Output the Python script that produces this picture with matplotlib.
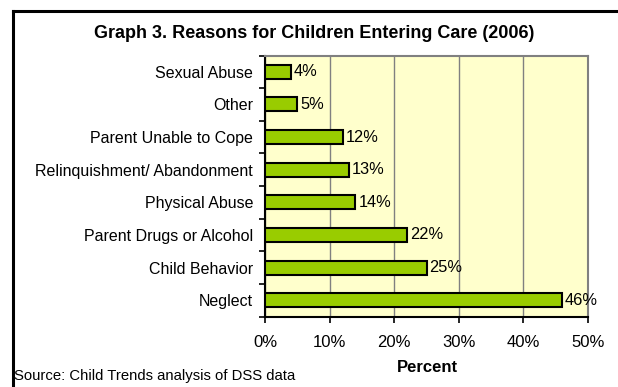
import matplotlib
matplotlib.use("Agg")
import matplotlib.pyplot as plt
from matplotlib.lines import Line2D
import numpy as np

plt.rcParams['font.family'] = ['Liberation Sans', 'DejaVu Sans']

categories = ["Neglect", "Child Behavior", "Parent Drugs or Alcohol", "Physical Abuse",
              "Relinquishment/ Abandonment", "Parent Unable to Cope", "Other", "Sexual Abuse"]
values = [46, 25, 22, 14, 13, 12, 5, 4]
xticks = [0, 10, 20, 30, 40, 50]
xticklabels = ["0%", "10%", "20%", "30%", "40%", "50%"]
title = "Graph 3. Reasons for Children Entering Care (2006)"
xlabel = "Percent"
source = "Source: Child Trends analysis of DSS data"

W, H = 618, 387
fig = plt.figure(figsize=(W / 100, H / 100), dpi=100)

# outer frame lines (top and left)
fig.add_artist(Line2D([12.5 / W, 1.0], [1 - 11 / H, 1 - 11 / H], color='black', lw=2.2,
                      transform=fig.transFigure))
fig.add_artist(Line2D([12.5 / W, 12.5 / W], [0, 1 - 11 / H], color='black', lw=2.2,
                      transform=fig.transFigure))

left, right, top, bottom = 265, 588, 55.5, 316.5
ax = fig.add_axes([left / W, 1 - bottom / H, (right - left) / W, (bottom - top) / H])
ax.set_facecolor('#FFFFCC')

y = np.arange(len(categories))
ax.barh(y, values, height=0.43, color='#99CC00', edgecolor='black', linewidth=1.5, zorder=3)
for yi, v in zip(y, values):
    ax.text(v + 0.45, yi, f"{v}%", va='center', ha='left', fontsize=11.8, zorder=4)

ax.set_xlim(0, 50)
ax.set_ylim(-0.5, len(categories) - 0.5)
ax.set_xticks(xticks)
ax.set_xticklabels(xticklabels, fontsize=12)
ax.set_yticks(y)
ax.set_yticklabels(categories, fontsize=11.5)
ax.set_yticks(np.arange(-0.5, len(categories), 1), minor=True)
ax.tick_params(axis='y', which='major', length=0, pad=8.5)
ax.tick_params(axis='y', which='minor', length=4, width=1.2, direction='out')
ax.tick_params(axis='x', which='major', length=4, width=1.2, direction='out', pad=9)

ax.grid(axis='x', color='#808080', lw=1, zorder=1)
for s in ['top', 'right']:
    ax.spines[s].set_color('#808080')
    ax.spines[s].set_linewidth(1.5)
for s in ['left', 'bottom']:
    ax.spines[s].set_color('black')
    ax.spines[s].set_linewidth(1.5)

fig.text(314 / W, 1 - 33 / H, title, ha='center', va='center', fontsize=13, fontweight='bold')
fig.text(427 / W, 1 - 368 / H, xlabel, ha='center', va='center', fontsize=12, fontweight='bold')
fig.text(14 / W, 1 - 376 / H, source, ha='left', va='center', fontsize=10.7)

fig.savefig("out.png", dpi=100)
